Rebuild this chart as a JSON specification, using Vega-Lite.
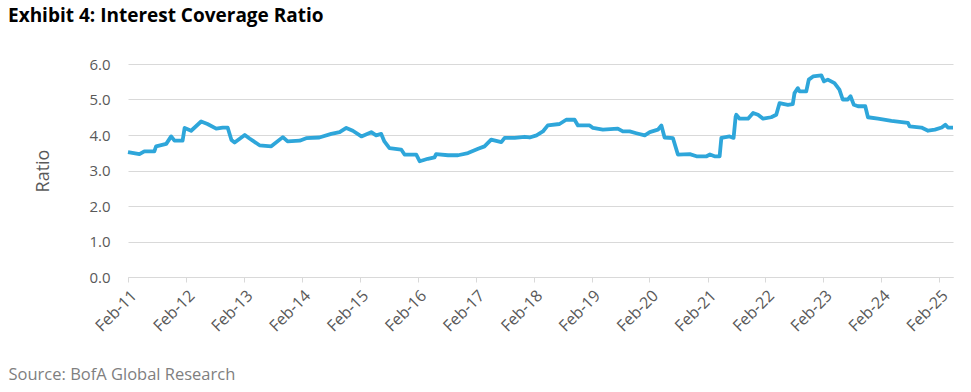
{
  "$schema": "https://vega.github.io/schema/vega-lite/v6.json",
  "width": 825,
  "height": 213,
  "autosize": {"type": "none"},
  "padding": {"left": 128, "top": 64, "right": 18, "bottom": 115},
  "background": "white",
  "title": {
    "text": "Exhibit 4: Interest Coverage Ratio",
    "anchor": "start",
    "frame": "group",
    "dx": -120,
    "offset": 31,
    "font": "Open Sans",
    "fontSize": 19,
    "fontWeight": "bold",
    "color": "#000000"
  },
  "config": {
    "view": {"stroke": null},
    "font": "Open Sans"
  },
  "data": {
    "values": [
      {"date": "2011-02-01", "ratio": 3.52},
      {"date": "2011-04-14", "ratio": 3.46},
      {"date": "2011-05-15", "ratio": 3.54},
      {"date": "2011-07-17", "ratio": 3.54},
      {"date": "2011-07-28", "ratio": 3.68},
      {"date": "2011-09-30", "ratio": 3.75},
      {"date": "2011-10-31", "ratio": 3.96},
      {"date": "2011-11-21", "ratio": 3.84},
      {"date": "2012-01-11", "ratio": 3.84},
      {"date": "2012-01-24", "ratio": 4.2},
      {"date": "2012-03-05", "ratio": 4.12},
      {"date": "2012-05-07", "ratio": 4.38},
      {"date": "2012-06-16", "ratio": 4.31},
      {"date": "2012-08-10", "ratio": 4.18},
      {"date": "2012-09-20", "ratio": 4.21},
      {"date": "2012-10-21", "ratio": 4.21},
      {"date": "2012-11-14", "ratio": 3.86},
      {"date": "2012-12-04", "ratio": 3.79},
      {"date": "2013-02-06", "ratio": 4.0},
      {"date": "2013-03-08", "ratio": 3.9},
      {"date": "2013-05-10", "ratio": 3.71},
      {"date": "2013-07-23", "ratio": 3.68},
      {"date": "2013-10-04", "ratio": 3.94},
      {"date": "2013-11-03", "ratio": 3.82},
      {"date": "2014-01-18", "ratio": 3.84},
      {"date": "2014-02-28", "ratio": 3.91},
      {"date": "2014-05-22", "ratio": 3.93},
      {"date": "2014-08-05", "ratio": 4.03},
      {"date": "2014-09-27", "ratio": 4.08},
      {"date": "2014-11-08", "ratio": 4.2},
      {"date": "2014-12-19", "ratio": 4.12},
      {"date": "2015-02-11", "ratio": 3.96},
      {"date": "2015-04-14", "ratio": 4.08},
      {"date": "2015-05-15", "ratio": 3.99},
      {"date": "2015-06-16", "ratio": 4.03},
      {"date": "2015-07-06", "ratio": 3.82},
      {"date": "2015-08-07", "ratio": 3.63},
      {"date": "2015-10-20", "ratio": 3.59},
      {"date": "2015-11-10", "ratio": 3.45},
      {"date": "2016-01-23", "ratio": 3.45},
      {"date": "2016-02-14", "ratio": 3.26},
      {"date": "2016-04-05", "ratio": 3.33},
      {"date": "2016-05-17", "ratio": 3.37},
      {"date": "2016-05-27", "ratio": 3.46},
      {"date": "2016-08-10", "ratio": 3.43},
      {"date": "2016-10-12", "ratio": 3.43},
      {"date": "2016-12-14", "ratio": 3.49},
      {"date": "2017-02-16", "ratio": 3.61},
      {"date": "2017-03-28", "ratio": 3.68},
      {"date": "2017-05-09", "ratio": 3.87},
      {"date": "2017-07-12", "ratio": 3.8},
      {"date": "2017-08-02", "ratio": 3.92},
      {"date": "2017-10-04", "ratio": 3.92},
      {"date": "2017-12-06", "ratio": 3.95},
      {"date": "2018-01-07", "ratio": 3.93},
      {"date": "2018-02-19", "ratio": 3.99},
      {"date": "2018-03-31", "ratio": 4.1},
      {"date": "2018-05-01", "ratio": 4.27},
      {"date": "2018-07-14", "ratio": 4.31},
      {"date": "2018-08-25", "ratio": 4.43},
      {"date": "2018-10-17", "ratio": 4.43},
      {"date": "2018-11-07", "ratio": 4.27},
      {"date": "2019-01-20", "ratio": 4.27},
      {"date": "2019-02-10", "ratio": 4.2},
      {"date": "2019-04-13", "ratio": 4.15},
      {"date": "2019-07-16", "ratio": 4.18},
      {"date": "2019-08-17", "ratio": 4.1},
      {"date": "2019-09-29", "ratio": 4.1},
      {"date": "2019-11-10", "ratio": 4.05},
      {"date": "2020-01-02", "ratio": 3.99},
      {"date": "2020-02-03", "ratio": 4.08},
      {"date": "2020-03-25", "ratio": 4.15},
      {"date": "2020-04-16", "ratio": 4.27},
      {"date": "2020-05-06", "ratio": 3.93},
      {"date": "2020-06-28", "ratio": 3.91},
      {"date": "2020-07-29", "ratio": 3.45},
      {"date": "2020-10-12", "ratio": 3.46},
      {"date": "2020-11-23", "ratio": 3.4},
      {"date": "2021-01-26", "ratio": 3.4},
      {"date": "2021-02-16", "ratio": 3.45},
      {"date": "2021-03-17", "ratio": 3.4},
      {"date": "2021-04-18", "ratio": 3.4},
      {"date": "2021-04-29", "ratio": 3.92},
      {"date": "2021-06-20", "ratio": 3.96},
      {"date": "2021-07-15", "ratio": 3.92},
      {"date": "2021-07-28", "ratio": 4.52},
      {"date": "2021-08-01", "ratio": 4.57},
      {"date": "2021-08-22", "ratio": 4.46},
      {"date": "2021-10-14", "ratio": 4.46},
      {"date": "2021-11-15", "ratio": 4.62},
      {"date": "2021-12-16", "ratio": 4.57},
      {"date": "2022-01-17", "ratio": 4.46},
      {"date": "2022-03-09", "ratio": 4.5},
      {"date": "2022-04-10", "ratio": 4.57},
      {"date": "2022-05-01", "ratio": 4.9},
      {"date": "2022-06-22", "ratio": 4.85},
      {"date": "2022-07-23", "ratio": 4.87},
      {"date": "2022-08-03", "ratio": 5.18},
      {"date": "2022-08-24", "ratio": 5.32},
      {"date": "2022-09-04", "ratio": 5.23},
      {"date": "2022-10-16", "ratio": 5.23},
      {"date": "2022-11-01", "ratio": 5.56},
      {"date": "2022-11-28", "ratio": 5.65},
      {"date": "2023-01-19", "ratio": 5.68},
      {"date": "2023-02-05", "ratio": 5.51},
      {"date": "2023-03-01", "ratio": 5.56},
      {"date": "2023-04-12", "ratio": 5.46},
      {"date": "2023-05-13", "ratio": 5.28},
      {"date": "2023-06-03", "ratio": 5.0},
      {"date": "2023-07-05", "ratio": 5.0},
      {"date": "2023-07-22", "ratio": 5.09},
      {"date": "2023-08-12", "ratio": 4.85},
      {"date": "2023-09-07", "ratio": 4.81},
      {"date": "2023-10-23", "ratio": 4.81},
      {"date": "2023-11-09", "ratio": 4.5},
      {"date": "2024-01-11", "ratio": 4.46},
      {"date": "2024-04-05", "ratio": 4.4},
      {"date": "2024-07-18", "ratio": 4.34},
      {"date": "2024-07-29", "ratio": 4.24},
      {"date": "2024-10-11", "ratio": 4.21},
      {"date": "2024-11-22", "ratio": 4.12},
      {"date": "2025-01-04", "ratio": 4.15},
      {"date": "2025-02-16", "ratio": 4.21},
      {"date": "2025-03-11", "ratio": 4.29},
      {"date": "2025-03-27", "ratio": 4.21},
      {"date": "2025-04-28", "ratio": 4.21}
    ]
  },
  "mark": {"type": "line", "color": "#2EA6DA", "strokeWidth": 3.8, "strokeJoin": "round"},
  "encoding": {
    "x": {
      "field": "date",
      "type": "temporal",
      "scale": {"type": "utc", "domain": [{"year": 2011, "month": 2, "date": 1, "utc": true}, {"year": 2025, "month": 4, "date": 28, "utc": true}]},
      "axis": {
        "values": [
          {"year": 2011, "month": 2, "date": 1, "utc": true},
          {"year": 2012, "month": 2, "date": 1, "utc": true},
          {"year": 2013, "month": 2, "date": 1, "utc": true},
          {"year": 2014, "month": 2, "date": 1, "utc": true},
          {"year": 2015, "month": 2, "date": 1, "utc": true},
          {"year": 2016, "month": 2, "date": 1, "utc": true},
          {"year": 2017, "month": 2, "date": 1, "utc": true},
          {"year": 2018, "month": 2, "date": 1, "utc": true},
          {"year": 2019, "month": 2, "date": 1, "utc": true},
          {"year": 2020, "month": 2, "date": 1, "utc": true},
          {"year": 2021, "month": 2, "date": 1, "utc": true},
          {"year": 2022, "month": 2, "date": 1, "utc": true},
          {"year": 2023, "month": 2, "date": 1, "utc": true},
          {"year": 2024, "month": 2, "date": 1, "utc": true},
          {"year": 2025, "month": 2, "date": 1, "utc": true}
        ],
        "format": "%b-%y",
        "labelAngle": -45,
        "labelAlign": "right",
        "labelBaseline": "top",
        "labelPadding": 5,
        "labelFontSize": 16,
        "labelColor": "#595959",
        "labelFont": "Open Sans",
        "labelOverlap": false,
        "labelBound": false,
        "labelFlush": false,
        "grid": false,
        "domainColor": "#D9D9D9",
        "tickColor": "#D9D9D9",
        "tickSize": 5,
        "title": "Source: BofA Global Research",
        "titleAnchor": null,
        "titleAlign": "left",
        "titleX": -120,
        "titleY": 102,
        "titleBaseline": "alphabetic",
        "titleFont": "Open Sans",
        "titleFontSize": 16.5,
        "titleFontWeight": "normal",
        "titleColor": "#7F7F7F"
      }
    },
    "y": {
      "field": "ratio",
      "type": "quantitative",
      "scale": {"domain": [0, 6], "nice": false, "zero": true},
      "axis": {
        "values": [0, 1, 2, 3, 4, 5, 6],
        "format": ".1f",
        "domain": false,
        "ticks": false,
        "labelPadding": 18,
        "labelFontSize": 15,
        "labelColor": "#595959",
        "labelFont": "Open Sans",
        "gridColor": "#D9D9D9",
        "gridWidth": 1,
        "title": "Ratio",
        "titleFont": "Open Sans",
        "titleFontSize": 18,
        "titleFontWeight": "normal",
        "titleColor": "#595959",
        "titlePadding": 36
      }
    }
  }
}
